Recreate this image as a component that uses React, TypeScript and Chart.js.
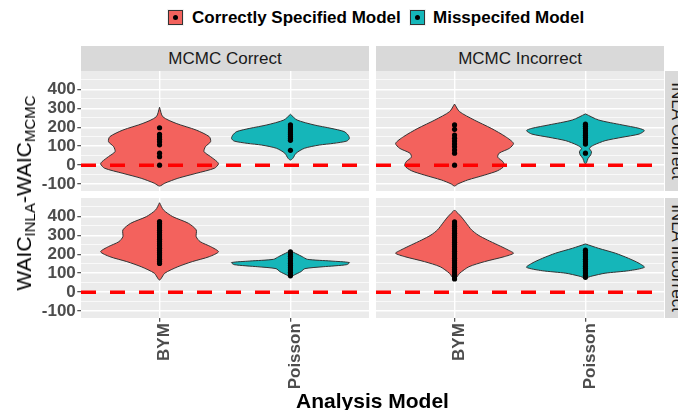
import React, { useEffect, useRef } from 'react';
import { Chart, registerables } from 'chart.js';

Chart.register(...registerables);

// ---------- data ----------
const categories = ['BYM', 'Poisson'];
const colLabels = ['MCMC Correct', 'MCMC Incorrect'];
const rowLabels = ['INLA Correct', 'INLA Incorrect'];
const legendLabels = ['Correctly Specified Model', 'Misspecifed Model'];
const yTicks = [-100, -50, 0, 50, 100, 150, 200, 250, 300, 350, 400, 450];
const yMin = -136;
const yMax = 496;
const refLineValue = 0;

// violin outlines: levels (WAIC difference) and half-widths (category units)
const tlBymLevels = [305, 255, 220, 185, 150, 124, 97, 71, 45, 18, 6, -16, -43, -69, -95, -110];
const tlBymHalfW = [0, 0.025, 0.127, 0.28, 0.38, 0.39, 0.35, 0.34, 0.39, 0.44, 0.45, 0.42, 0.28, 0.14, 0.04, 0];
const tlPoisLevels = [268, 238, 212, 194, 177, 159, 141, 127, 115, 106, 89, 63, 36, 27];
const tlPoisHalfW = [0, 0.05, 0.18, 0.31, 0.41, 0.44, 0.45, 0.43, 0.33, 0.22, 0.107, 0.043, 0.018, 0];
const trBymLevels = [322, 282, 238, 194, 150, 115, 89, 63, 42, 18, -4, -29, -52, -78, -99, -110];
const trBymHalfW = [0, 0.038, 0.15, 0.28, 0.39, 0.45, 0.42, 0.34, 0.33, 0.37, 0.38, 0.33, 0.23, 0.1, 0.025, 0];
const trPoisLevels = [270, 238, 212, 194, 182, 164, 147, 129, 106, 89, 71, 54, 36, 13, 6];
const trPoisHalfW = [0, 0.1, 0.28, 0.41, 0.45, 0.41, 0.28, 0.15, 0.064, 0.03, 0.046, 0.04, 0.02, 0.008, 0];
const blBymLevels = [471, 433, 398, 363, 328, 292, 266, 240, 213, 187, 161, 134, 100, 64];
const blBymHalfW = [0, 0.03, 0.1, 0.22, 0.28, 0.28, 0.31, 0.39, 0.45, 0.38, 0.25, 0.14, 0.04, 0];
const blPoisLevels = [217, 201, 187, 173, 164, 156, 145, 134, 124, 108, 91, 78];
const blPoisHalfW = [0, 0.05, 0.09, 0.13, 0.31, 0.45, 0.43, 0.25, 0.11, 0.08, 0.03, 0];
const brBymLevels = [433, 398, 363, 328, 301, 275, 249, 222, 205, 187, 161, 134, 100, 68];
const brBymHalfW = [0, 0.05, 0.09, 0.13, 0.18, 0.25, 0.33, 0.41, 0.45, 0.38, 0.23, 0.11, 0.04, 0];
const brPoisLevels = [254, 231, 205, 178, 152, 131, 113, 100, 85, 76];
const brPoisHalfW = [0, 0.1, 0.23, 0.33, 0.41, 0.45, 0.33, 0.15, 0.05, 0];

// observed points
const tlBymDots = [197, 162, 149, 136, 123, 107, 63, 45, 0];
const tlPoisDots = [213, 202, 191, 181, 171, 161, 151, 141, 131, 78];
const trBymDots = [212, 189, 159, 142, 127, 112, 97, 80, 63, 0];
const trPoisDots = [216, 205, 193, 181, 169, 158, 146, 134, 122, 111, 63];
const blBymDots = [372, 361, 349, 338, 326, 314, 302, 291, 279, 267, 255, 244, 232, 220, 208, 197, 185, 173, 162, 151];
const blPoisDots = [212, 201, 189, 177, 165, 153, 141, 129, 117, 105, 93, 86];
const brBymDots = [371, 359, 347, 335, 323, 311, 299, 287, 275, 263, 251, 239, 227, 215, 203, 191, 179, 167, 155, 143, 131, 119, 107, 95, 83, 70];
const brPoisDots = [221, 209, 197, 185, 173, 161, 149, 137, 125, 113, 101, 89, 78];

// ---------- styling ----------
const FONT = "'Liberation Sans', Arial, Helvetica, sans-serif";
const RED = '#F3625D';
const TEAL = '#15B6B9';
const fillColors = [RED, TEAL];

type Violin = { levels: number[]; halfW: number[]; dots: number[] };

const panels: { violins: Violin[]; row: number; col: number }[] = [
  { row: 0, col: 0, violins: [
    { levels: tlBymLevels, halfW: tlBymHalfW, dots: tlBymDots },
    { levels: tlPoisLevels, halfW: tlPoisHalfW, dots: tlPoisDots },
  ] },
  { row: 0, col: 1, violins: [
    { levels: trBymLevels, halfW: trBymHalfW, dots: trBymDots },
    { levels: trPoisLevels, halfW: trPoisHalfW, dots: trPoisDots },
  ] },
  { row: 1, col: 0, violins: [
    { levels: blBymLevels, halfW: blBymHalfW, dots: blBymDots },
    { levels: blPoisLevels, halfW: blPoisHalfW, dots: blPoisDots },
  ] },
  { row: 1, col: 1, violins: [
    { levels: brBymLevels, halfW: brBymHalfW, dots: brBymDots },
    { levels: brPoisLevels, halfW: brPoisHalfW, dots: brPoisDots },
  ] },
];

// panel geometry (pixels)
const colX = [81, 376];
const panelW = 288;
const rowY = [71, 198];
const panelH = 120;
const PAD = 10;
const X_AXIS_H = 80;

const bgPlugin = {
  id: 'panelBg',
  beforeDraw(chart: any) {
    const { ctx, chartArea: a } = chart;
    ctx.save();
    ctx.fillStyle = '#EBEBEB';
    ctx.fillRect(a.left, a.top, a.right - a.left, a.bottom - a.top);
    ctx.restore();
  },
};

function Panel({ violins, row, col }: { violins: Violin[]; row: number; col: number }) {
  const ref = useRef<HTMLCanvasElement | null>(null);
  const showY = col === 0;
  const showX = row === 1;
  const left = showY ? 0 : colX[col] - PAD;
  const yAxisW = showY ? colX[col] : 0;
  const top = rowY[row] - PAD;
  const width = showY ? colX[col] + panelW + PAD : panelW + 2 * PAD;
  const xAxisH = showX ? X_AXIS_H : 0;
  const height = PAD + panelH + (showX ? X_AXIS_H : PAD);

  useEffect(() => {
    const datasets: any[] = [];
    violins.forEach((v, i) => {
      const pos = i + 1;
      datasets.push({
        data: v.dots.map((d) => ({ x: pos, y: d })),
        showLine: false,
        pointRadius: 2.6,
        pointBackgroundColor: '#000',
        pointBorderWidth: 0,
        order: 1,
      });
    });
    datasets.push({
      data: [{ x: 0.4, y: refLineValue }, { x: 2.6, y: refLineValue }],
      borderColor: '#FF0000',
      borderWidth: 3.5,
      borderDash: [15, 14],
      pointRadius: 0,
      fill: false,
      order: 2,
    });
    violins.forEach((v, i) => {
      const pos = i + 1;
      const right = v.levels.map((lv, k) => ({ x: pos + v.halfW[k], y: lv }));
      const leftSide = v.levels.map((lv, k) => ({ x: pos - v.halfW[k], y: lv })).reverse();
      datasets.push({
        data: [...right, ...leftSide.slice(1)],
        borderColor: '#333333',
        borderWidth: 1,
        backgroundColor: fillColors[i],
        fill: 'shape',
        pointRadius: 0,
        tension: 0.25,
        order: 3,
      });
    });

    const chart = new Chart(ref.current as HTMLCanvasElement, {
      type: 'line',
      data: { datasets },
      options: {
        responsive: false,
        animation: false,
        events: [],
        layout: {
          autoPadding: false,
          padding: { left: showY ? 0 : PAD, right: PAD, top: PAD, bottom: showX ? 0 : PAD },
        },
        plugins: { legend: { display: false }, tooltip: { enabled: false } },
        scales: {
          x: {
            type: 'linear',
            min: 0.4,
            max: 2.6,
            bounds: 'data',
            afterBuildTicks: (s: any) => {
              s.ticks = categories.map((_, k) => ({ value: k + 1 }));
            },
            afterFit: (s: any) => {
              s.height = xAxisH;
              s.paddingLeft = 0;
              s.paddingRight = 0;
            },
            ticks: {
              display: showX,
              autoSkip: false,
              minRotation: 90,
              maxRotation: 90,
              padding: 1.5,
              labelOffset: 5,
              color: '#4D4D4D',
              font: { family: FONT, size: 17, weight: 'bold' },
              callback: (v: any) => categories[Math.round(Number(v)) - 1],
            },
            grid: {
              color: '#FFFFFF',
              lineWidth: 1.4,
              drawTicks: showX,
              tickLength: 3.7,
              tickColor: '#333333',
              tickWidth: 1.07,
            },
            border: { display: false },
          },
          y: {
            type: 'linear',
            min: yMin,
            max: yMax,
            bounds: 'data',
            afterBuildTicks: (s: any) => {
              s.ticks = yTicks.map((t) => ({ value: t }));
            },
            afterFit: (s: any) => {
              s.width = yAxisW;
              s.paddingTop = 0;
              s.paddingBottom = 0;
            },
            ticks: {
              display: showY,
              autoSkip: false,
              padding: 1.5,
              color: '#4D4D4D',
              font: { family: FONT, size: 17, weight: 'bold' },
              callback: (v: any) => (Number(v) % 100 === 0 ? String(v) : ''),
            },
            grid: {
              color: '#FFFFFF',
              lineWidth: (c: any) => (c.tick && c.tick.value % 100 === 0 ? 1.4 : 0.7),
              drawTicks: showY,
              tickLength: 3.7,
              tickWidth: 1.07,
              tickColor: (c: any) => (c.tick && c.tick.value % 100 === 0 ? '#333333' : 'rgba(0,0,0,0)'),
            },
            border: { display: false },
          },
        },
      } as any,
      plugins: [bgPlugin],
    });
    return () => chart.destroy();
  }, []);

  return (
    <canvas
      ref={ref}
      width={width}
      height={height}
      style={{ position: 'absolute', left, top, width, height, display: 'block' }}
    />
  );
}

function LegendKey({ color, left }: { color: string; left: number }) {
  return (
    <div style={{ position: 'absolute', left, top: 9, width: 17, height: 17, background: '#F2F2F2' }}>
      <div style={{ position: 'absolute', left: 1, top: 1, width: 13, height: 13, background: color, border: '1px solid #333' }} />
      <div style={{ position: 'absolute', left: 6, top: 6, width: 5, height: 5, borderRadius: '50%', background: '#000' }} />
    </div>
  );
}

export default function App() {
  return (
    <div style={{ position: 'fixed', left: 0, top: 0, width: 678, height: 410, overflow: 'hidden', background: '#FFFFFF', fontFamily: FONT }}>
      {/* legend */}
      <LegendKey color={RED} left={167} />
      <div style={{ position: 'absolute', left: 192, top: 9, height: 17, lineHeight: '17px', fontSize: 17, fontWeight: 'bold', color: '#000', whiteSpace: 'nowrap' }}>{legendLabels[0]}</div>
      <LegendKey color={TEAL} left={409} />
      <div style={{ position: 'absolute', left: 433, top: 9, height: 17, lineHeight: '17px', fontSize: 17, fontWeight: 'bold', color: '#000', whiteSpace: 'nowrap' }}>{legendLabels[1]}</div>

      {/* column strips */}
      {colLabels.map((lab, i) => (
        <div key={lab} style={{ position: 'absolute', left: colX[i], top: 46, width: panelW, height: 25, background: '#D9D9D9', color: '#1A1A1A', fontSize: 17, display: 'flex', alignItems: 'center', justifyContent: 'center', lineHeight: 1, whiteSpace: 'nowrap' }}>{lab}</div>
      ))}
      {/* row strips */}
      {rowLabels.map((lab, i) => (
        <div key={lab} style={{ position: 'absolute', left: 665, top: rowY[i], width: 23, height: panelH, background: '#D9D9D9', overflow: 'hidden' }}>
          <div style={{ position: 'absolute', left: 11.5, top: 60, transform: 'translate(-50%,-50%) rotate(90deg)', color: '#1A1A1A', fontSize: 17, lineHeight: 1, whiteSpace: 'nowrap' }}>{lab}</div>
        </div>
      ))}

      {panels.map((p) => (
        <Panel key={`${p.row}-${p.col}`} violins={p.violins} row={p.row} col={p.col} />
      ))}

      {/* axis titles */}
      <div style={{ position: 'absolute', left: 25, top: 193, transform: 'translate(-50%,-50%) rotate(-90deg)', fontSize: 21, lineHeight: 1, color: '#000', whiteSpace: 'nowrap' }}>
        WAIC<span style={{ fontSize: 15, verticalAlign: '-4px' }}>INLA</span>-WAIC<span style={{ fontSize: 15, verticalAlign: '-4px' }}>MCMC</span>
      </div>
      <div style={{ position: 'absolute', left: 372.5, top: 390, transform: 'translateX(-50%)', fontSize: 21, lineHeight: '21px', fontWeight: 'bold', color: '#000', whiteSpace: 'nowrap' }}>Analysis Model</div>
    </div>
  );
}
